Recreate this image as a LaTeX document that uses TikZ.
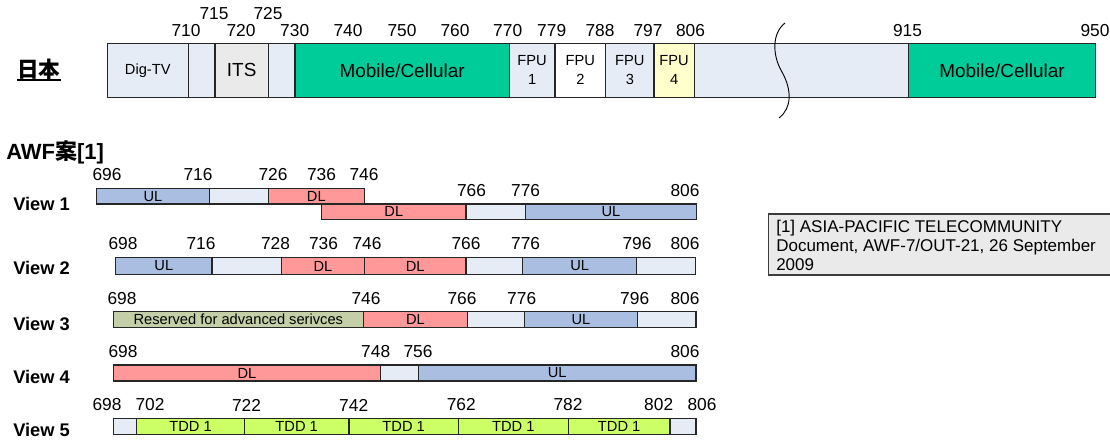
\documentclass[tikz,border=0pt]{standalone}
\usepackage{fontspec}
\setmainfont{Liberation Sans}
\newfontfamily\jpfont{Noto Sans CJK JP}

\definecolor{spare}{HTML}{E6ECF6}
\definecolor{itsgray}{HTML}{EAEAEA}
\definecolor{mobile}{HTML}{00CC99}
\definecolor{fpuyellow}{HTML}{FFFFCC}
\definecolor{uplink}{HTML}{A9BEE0}
\definecolor{downlink}{HTML}{FF9999}
\definecolor{reserved}{HTML}{C5CFA7}
\definecolor{tdd}{HTML}{CCFF66}
\definecolor{edge}{HTML}{262626}
\definecolor{notefill}{HTML}{EAEAEA}

% font sizes (1 px = 0.75 pt)
\newcommand\fbig{\fontsize{14.2}{17}\selectfont}
\newcommand\fsmall{\fontsize{11}{14.25}\selectfont}
\newcommand\ffreq{\fontsize{13}{15}\selectfont}
\newcommand\fview{\fontsize{13.7}{16}\selectfont\bfseries}
\newcommand\fnote{\fontsize{12.75}{14.25}\selectfont}

% one band segment: [style]{name}{x left}{x right}{y top}{y bottom}{fill}{text}
\newcommand\bandcell[8][]{%
  \node[cellbox,#1,fill=#7,
        minimum width={(#4-#3)*0.75pt},
        minimum height={(#6-#5)*0.75pt}] (#2) at (#3,#5) {#8};}

\begin{document}
\begin{tikzpicture}[x=0.75pt,y=-0.75pt,
  cellbox/.style={draw=edge, line width=0.8pt, inner sep=0pt, outer sep=0pt,
                  anchor=north west, align=center, font=\fsmall},
  jpband/.style={line width=1pt},
  freq/.style={inner sep=0pt, font=\ffreq},
  viewlabel/.style={inner sep=0pt, anchor=west, font=\fview},
  notetext/.style={inner sep=0pt, anchor=base west, font=\fnote}]
\useasboundingbox (0,0) rectangle (1110,440);
\fill[white] (0,0) rectangle (1110,440);

% ---------- Japanese allocation ----------
\node[inner sep=0pt, anchor=base, font=\fontsize{16.2}{18}\selectfont\jpfont\bfseries] (jp) at (38.8,77) {日本};
\draw[line width=1.1pt] ([yshift=-2.4pt]jp.base west) -- ([yshift=-2.4pt]jp.base east);

\bandcell[jpband]{dig}{107.3}{188.3}{43.3}{97.3}{spare}{Dig-TV}
\bandcell[jpband]{gapA}{188.3}{215}{43.3}{97.3}{spare}{}
\bandcell[jpband,font=\fbig]{its}{215}{268.3}{43.3}{97.3}{itsgray}{ITS}
\bandcell[jpband]{gapB}{268.3}{295}{43.3}{97.3}{spare}{}
\bandcell[jpband,font=\fbig]{mobA}{295}{509.3}{43.3}{97.3}{mobile}{Mobile/Cellular}
\bandcell[jpband]{fpuA}{509.3}{555}{43.3}{97.3}{spare}{FPU\\1}
\bandcell[jpband]{fpuB}{555}{605.7}{43.3}{97.3}{white}{FPU\\2}
\bandcell[jpband]{fpuC}{605.7}{654}{43.3}{97.3}{spare}{FPU\\3}
\bandcell[jpband]{fpuD}{654}{694.3}{43.3}{97.3}{fpuyellow}{FPU\\4}
\bandcell[jpband]{gapC}{694.3}{908.3}{43.3}{97.3}{spare}{}
\bandcell[jpband,font=\fbig]{mobB}{908.3}{1095.7}{43.3}{97.3}{mobile}{Mobile/Cellular}

% axis break
\draw[line width=0.7pt] (785,23) .. controls (772,33) and (772,55) .. (782,72)
                                 .. controls (792,90) and (792,108) .. (779,118);

\foreach \f/\x in {710/186,720/241,730/294.7,740/348,750/402,760/455,770/507.7,
                   779/551.7,788/600,797/648,806/690.5,915/907.5,950/1095}
  \node[freq] (jp\f) at (\x,31) {\f};
\foreach \f/\x in {715/214,725/268}
  \node[freq] (jp\f) at (\x,13.7) {\f};

% ---------- AWF proposal ----------
\node[inner sep=0pt, anchor=base west, font=\fontsize{16.5}{18}\selectfont\bfseries] (awf) at (6,159.3) {AWF{\jpfont\bfseries 案}[1]};

% View 1
\node[viewlabel] (view1) at (13,203.5) {View 1};
\bandcell{vAa}{96.7}{209.3}{188.3}{204}{uplink}{UL}
\bandcell{vAb}{209.3}{268.3}{188.3}{204}{spare}{}
\bandcell{vAc}{268.3}{364.3}{188.3}{204}{downlink}{DL}
\bandcell{vAd}{321.7}{466}{204}{219.3}{downlink}{DL}
\bandcell{vAe}{466}{525.3}{204}{219.3}{spare}{}
\bandcell{vAf}{525.3}{696.7}{204}{219.3}{uplink}{UL}
\foreach \f/\x in {696/107,716/198,726/273,736/321.5,746/364}
  \node[freq] (vA\f) at (\x,174.5) {\f};
\foreach \f/\x in {766/471.5,776/525.6,806/685}
  \node[freq] (vA\f) at (\x,190.5) {\f};

% View 2
\node[viewlabel] (view2) at (13,267.5) {View 2};
\bandcell{vBa}{115.7}{212}{257.7}{274.3}{uplink}{UL}
\bandcell{vBb}{212}{281.7}{257.7}{274.3}{spare}{}
\bandcell{vBc}{281.7}{364.3}{257.7}{274.3}{downlink}{DL}
\bandcell{vBd}{364.3}{466}{257.7}{274.3}{downlink}{DL}
\bandcell{vBe}{466}{522.7}{257.7}{274.3}{spare}{}
\bandcell{vBf}{522.7}{636.7}{257.7}{274.3}{uplink}{UL}
\bandcell{vBg}{636.7}{695.3}{257.7}{274.3}{spare}{}
\foreach \f/\x in {698/123,716/201,728/275.5,736/323.5,746/367,766/466,776/525.6,796/637,806/685}
  \node[freq] (vB\f) at (\x,244) {\f};

% View 3
\node[viewlabel] (view3) at (13,324) {View 3};
\bandcell{vCa}{113.3}{363.3}{311.7}{327.3}{reserved}{Reserved for advanced serivces}
\bandcell{vCb}{363.3}{467.7}{311.7}{327.3}{downlink}{DL}
\bandcell{vCc}{467.7}{524.3}{311.7}{327.3}{spare}{}
\bandcell{vCd}{524.3}{637.7}{311.7}{327.3}{uplink}{UL}
\bandcell{vCe}{637.7}{696}{311.7}{327.3}{spare}{}
\foreach \f/\x in {698/122,746/366,766/462,776/521.7,796/634.7,806/685}
  \node[freq] (vC\f) at (\x,299) {\f};

% View 4
\node[viewlabel] (view4) at (13,377) {View 4};
\bandcell{vDa}{113.3}{380.7}{365}{381}{downlink}{DL}
\bandcell{vDb}{380.7}{418.3}{365}{381}{spare}{}
\bandcell{vDc}{418.3}{696}{365}{381}{uplink}{UL}
\foreach \f/\x in {698/123,748/375.7,756/418,806/685}
  \node[freq] (vD\f) at (\x,351.7) {\f};

% View 5
\node[viewlabel] (view5) at (13,429.5) {View 5};
\bandcell{vEa}{113.3}{136.7}{418.3}{434.3}{spare}{}
\bandcell{vEb}{136.7}{244.3}{418.3}{434.3}{tdd}{TDD 1}
\bandcell{vEc}{244.3}{349}{418.3}{434.3}{tdd}{TDD 1}
\bandcell{vEd}{349}{458.3}{418.3}{434.3}{tdd}{TDD 1}
\bandcell{vEe}{458.3}{568.3}{418.3}{434.3}{tdd}{TDD 1}
\bandcell{vEf}{568.3}{670}{418.3}{434.3}{tdd}{TDD 1}
\bandcell{vEg}{670}{696}{418.3}{434.3}{spare}{}
\foreach \f/\x in {698/107,702/150,722/246.5,742/353.7,762/461.3,782/568,802/658.7,806/702}
  \node[freq] (vE\f) at (\x,405) {\f};

% ---------- reference note ----------
\bandcell[draw=edge!90!white]{note}{768.3}{1116}{214}{275}{notefill}{}
\node[notetext] (noteA) at (776,232.5) {[1] ASIA-PACIFIC TELECOMMUNITY};
\node[notetext] (noteB) at (776,251.5) {Document, AWF-7/OUT-21, 26 September};
\node[notetext] (noteC) at (776,270.5) {2009};
\end{tikzpicture}
\end{document}
